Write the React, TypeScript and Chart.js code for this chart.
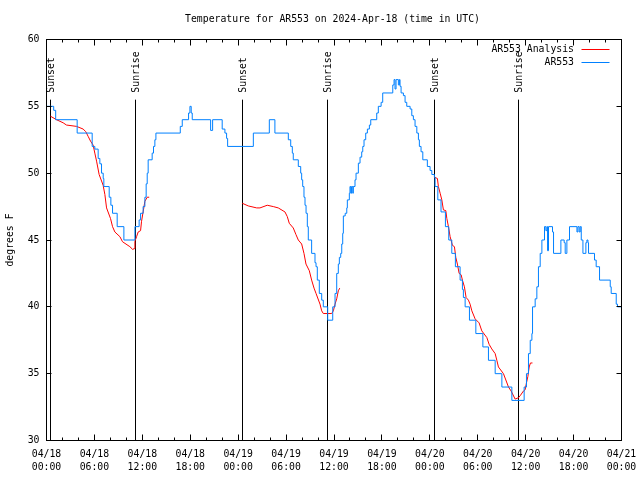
import React, { useEffect, useRef } from "react";
import { Chart, registerables } from "chart.js";

Chart.register(...registerables);

const FONT_FAMILY = '"DejaVu Sans Mono", "Liberation Mono", monospace';
const FONT_SIZE = 9.8;

const titleText = "Temperature for AR553 on 2024-Apr-18 (time in UTC)";
const yAxisTitle = "degrees F";
const analysisLabel = "AR553 Analysis";
const observedLabel = "AR553";
const analysisColor = "#ff0000";
const observedColor = "#0080ff";

// x axis: hours since 04/18 00:00 UTC
const xMin = 0;
const xMax = 72;
const xTickDates = ["04/18", "04/18", "04/18", "04/18", "04/19", "04/19", "04/19", "04/19", "04/20", "04/20", "04/20", "04/20", "04/21"];
const xTickTimes = ["00:00", "06:00", "12:00", "18:00", "00:00", "06:00", "12:00", "18:00", "00:00", "06:00", "12:00", "18:00", "00:00"];
const yMin = 30;
const yMax = 60;

// Sunrise / sunset markers (hours)
const eventHours = [0.45, 11.1, 24.5, 35.16, 48.57, 59.1];
const eventLabels = ["Sunset", "Sunrise", "Sunset", "Sunrise", "Sunset", "Sunrise"];

// AR553 observations (hour, deg F)
const observedHours = [
  0, 0.9, 1.15, 3.84, 5.72, 6.05, 6.47, 6.68, 6.89, 7.1, 7.18, 7.85, 8.06, 8.27, 8.85, 9.69,
  11.07, 11.6, 11.78, 12.1, 12.32, 12.48, 12.61, 12.73, 13.23, 13.4, 13.57, 13.7, 16.75, 17.0,
  17.79, 17.96, 18.12, 18.25, 20.55, 20.8, 22.0, 22.34, 22.55, 22.68, 25.9, 27.9, 28.6, 30.28,
  30.58, 30.78, 30.9, 31.53, 31.83, 31.95, 32.08, 32.24, 32.37, 32.5, 32.66, 32.78, 33.2, 33.62,
  33.75, 33.91, 34.16, 34.46, 34.66, 35.21, 35.84, 36.13, 36.34, 36.54, 36.67, 36.84, 36.97,
  37.09, 37.17, 37.4, 37.6, 37.67, 37.92, 38.0, 38.1, 38.2, 38.35, 38.42, 38.63, 38.76, 39.05,
  39.26, 39.47, 39.6, 39.76, 39.97, 40.18, 40.43, 40.6, 41.35, 41.55, 41.9, 42.1, 43.36, 43.52,
  43.64, 43.77, 44.06, 44.19, 44.27, 44.4, 44.69, 44.9, 45.11, 45.53, 45.74, 45.94, 46.15, 46.37,
  46.57, 46.69, 46.9, 47.12, 47.69, 48.03, 48.25, 48.57, 48.66, 49.0, 49.4, 49.95, 50.37, 50.75,
  51.2, 51.79, 52.08, 52.2, 52.42, 52.96, 53.76, 54.64, 55.34, 56.18, 57.02, 58.27, 59.81, 60.1,
  60.35, 60.57, 60.78, 60.86, 61.19, 61.4, 61.6, 61.82, 62.03, 62.36, 62.53, 62.66, 62.74, 62.86,
  63.36, 63.49, 64.41, 64.82, 64.95, 65.16, 65.49, 66.42, 66.54, 66.7, 66.83, 66.96, 67.17, 67.54,
  67.67, 67.8, 67.87, 68.62, 68.83, 69.25, 70.59, 70.71, 71.34, 71.5, 72,
];
const observedTemps = [
  55, 54.7, 54, 53, 52, 51.8, 51.1, 50.7, 50, 49.6, 49, 48.2, 47.6, 47, 46, 45,
  46, 46.5, 47, 47.5, 48.2, 49.2, 50, 51, 51.5, 52, 52.5, 53, 53.5, 54,
  54.5, 55, 54.5, 54, 53.2, 54, 53.3, 53, 52.6, 52, 53, 54, 53, 52.5,
  52, 51.5, 51, 50.5, 50, 49.5, 49, 48.2, 47.6, 47, 46, 45, 44, 43.3,
  43, 42, 41, 40.5, 40, 39, 40, 41, 42.5, 43.2, 43.7, 44, 44.7,
  45.5, 46.8, 47, 47.4, 48, 48.5, 49, 48.5, 49, 48.5, 49, 49.5, 50, 50.75,
  51.2, 51.6, 52, 52.5, 53, 53.3, 53.6, 54, 54.5, 55, 55.3, 56, 56.6, 57,
  56.3, 57, 56.6, 57, 56.5, 56, 55.8, 55.3, 55, 54.8, 54.3, 54, 53.5, 53,
  52.5, 52, 51.6, 51, 50.5, 50.2, 49.9, 49.7, 49, 48, 47.1, 46, 45, 44,
  43, 42, 41.3, 40.7, 40, 39, 38, 37, 36, 35, 34, 33, 34, 35,
  36.5, 37.5, 38, 40, 40.6, 41.5, 43, 44, 45, 46, 45.7, 46, 44.2, 46,
  45.6, 44, 45, 44.8, 44, 45, 46, 45.6, 46, 45.6, 46, 45, 44, 44.8,
  45, 44.8, 44, 43.5, 43, 42, 41.5, 41, 40.2, 40, 40,
];

// AR553 Analysis, three evening-to-morning runs (hour, deg F)
const analysisRun1Hours = [0.5, 1.25, 2.08, 2.5, 3.76, 4.59, 4.92, 5.21, 5.51, 5.84, 6.05, 6.27, 6.59, 7.09, 7.31, 7.52, 8.02, 8.27, 8.56, 9.19, 9.52, 10.44, 10.78, 10.98, 11.07, 11.28, 11.48, 11.78, 11.9, 12.1, 12.32, 12.61, 12.86];
const analysisRun1Temps = [54.26, 54.0, 53.77, 53.6, 53.5, 53.3, 53.1, 52.76, 52.4, 52.1, 51.5, 50.9, 49.9, 49.1, 48.4, 47.4, 46.6, 46.0, 45.6, 45.25, 44.87, 44.5, 44.3, 44.35, 44.9, 45.25, 45.6, 45.7, 46.4, 47.1, 47.9, 48.2, 48.2];
const analysisRun2Hours = [24.51, 25.26, 26.32, 26.73, 27.64, 28.4, 29.02, 29.86, 30.15, 30.4, 30.9, 31.24, 31.53, 31.95, 32.24, 32.49, 32.91, 33.2, 33.5, 33.75, 34.25, 34.46, 34.66, 35.71, 35.92, 36.13, 36.34, 36.54, 36.72];
const analysisRun2Temps = [47.75, 47.55, 47.4, 47.4, 47.6, 47.5, 47.4, 47.1, 46.75, 46.25, 45.9, 45.4, 45.0, 44.7, 44.0, 43.2, 42.7, 42.0, 41.4, 41.0, 40.2, 39.7, 39.5, 39.5, 39.7, 40.2, 40.6, 41.2, 41.4];
const analysisRun3Hours = [48.57, 48.95, 49.07, 49.29, 49.5, 49.7, 50.0, 50.13, 50.33, 50.54, 50.83, 51.08, 51.25, 51.45, 51.67, 51.92, 52.08, 52.33, 52.54, 52.83, 53.04, 53.26, 53.67, 54.17, 54.51, 55.14, 55.42, 55.76, 56.18, 56.39, 56.59, 57.22, 57.85, 58.18, 58.68, 59.1, 59.31, 59.72, 59.94, 60.06, 60.28, 60.44, 60.6, 60.85];
const analysisRun3Temps = [49.7, 49.6, 49.0, 48.5, 48.0, 47.25, 47.2, 46.6, 46.0, 45.25, 44.6, 44.5, 43.7, 43.2, 42.5, 42.4, 42.0, 41.5, 40.7, 40.5, 40.2, 39.7, 39.1, 38.8, 38.2, 37.7, 37.2, 36.85, 36.5, 36.0, 35.5, 35.0, 34.0, 33.7, 33.1, 33.2, 33.35, 33.7, 33.8, 34.2, 34.8, 35.5, 35.8, 35.8];

type Pt = { x: number; y: number | null };

function toPoints(hours: number[], temps: number[]): Pt[] {
  return hours.map((h, i) => ({ x: h, y: temps[i] }));
}

function joinRuns(runs: Pt[][]): Pt[] {
  const out: Pt[] = [];
  runs.forEach((run, i) => {
    if (i > 0) {
      const prev = runs[i - 1];
      out.push({ x: (prev[prev.length - 1].x + run[0].x) / 2, y: null });
    }
    out.push(...run);
  });
  return out;
}

const font = (size = FONT_SIZE) => `${size}px ${FONT_FAMILY}`;
const snap = (v: number) => Math.floor(v) + 0.5;

const decorPlugin = {
  id: "gnuplotDecor",
  beforeDatasetsDraw(chart: any) {
    const { ctx, chartArea: a, scales } = chart;
    const x = scales.x;
    const lineTop = a.bottom - 0.85 * (a.bottom - a.top);
    ctx.save();
    ctx.strokeStyle = "#000";
    ctx.lineWidth = 1;
    ctx.fillStyle = "#000";
    ctx.font = font();
    eventHours.forEach((h, i) => {
      const px = snap(x.getPixelForValue(h));
      ctx.beginPath();
      ctx.moveTo(px, lineTop);
      ctx.lineTo(px, a.bottom);
      ctx.stroke();
      ctx.save();
      ctx.translate(px + 0.5, lineTop - 7);
      ctx.rotate(-Math.PI / 2);
      ctx.textAlign = "left";
      ctx.textBaseline = "middle";
      ctx.fillText(eventLabels[i], 0, 0);
      ctx.restore();
    });
    ctx.restore();
  },
  afterDraw(chart: any) {
    const { ctx, chartArea: a, scales } = chart;
    const x = scales.x;
    const y = scales.y;
    ctx.save();
    ctx.strokeStyle = "#000";
    ctx.lineWidth = 1;
    ctx.beginPath();
    for (let h = xMin; h <= xMax; h += 2) {
      const px = snap(x.getPixelForValue(h));
      const len = h % 6 === 0 ? 6 : 3;
      ctx.moveTo(px, a.bottom);
      ctx.lineTo(px, a.bottom - len);
      ctx.moveTo(px, a.top);
      ctx.lineTo(px, a.top + len);
    }
    for (let v = yMin; v <= yMax; v += 5) {
      const py = snap(y.getPixelForValue(v));
      ctx.moveTo(a.left, py);
      ctx.lineTo(a.left + 5, py);
      ctx.moveTo(a.right, py);
      ctx.lineTo(a.right - 5, py);
    }
    ctx.stroke();
    ctx.strokeRect(a.left, a.top, a.right - a.left, a.bottom - a.top);

    // title
    ctx.fillStyle = "#000";
    ctx.font = font();
    ctx.textAlign = "center";
    ctx.textBaseline = "middle";
    ctx.fillText(titleText, (a.left + a.right) / 2 - 1.5, 19.5);

    // legend
    const ds = chart.data.datasets;
    ds.forEach((d: any, i: number) => {
      const ly = a.top + 10 + i * 13;
      ctx.textAlign = "right";
      ctx.fillStyle = "#000";
      ctx.fillText(d.label, a.right - 47.5, ly);
      ctx.strokeStyle = d.borderColor;
      ctx.beginPath();
      ctx.moveTo(a.right - 40, snap(ly));
      ctx.lineTo(a.right - 12, snap(ly));
      ctx.stroke();
    });
    ctx.restore();
  },
};

export default function App() {
  const canvasRef = useRef<HTMLCanvasElement | null>(null);

  useEffect(() => {
    const canvas = canvasRef.current;
    if (!canvas) return;
    const analysisData = joinRuns([
      toPoints(analysisRun1Hours, analysisRun1Temps),
      toPoints(analysisRun2Hours, analysisRun2Temps),
      toPoints(analysisRun3Hours, analysisRun3Temps),
    ]);
    const observedData = toPoints(observedHours, observedTemps);
    const tickFont = { family: FONT_FAMILY, size: FONT_SIZE };

    const chart = new Chart(canvas, {
      type: "line",
      data: {
        datasets: [
          {
            label: analysisLabel,
            data: analysisData as any,
            borderColor: analysisColor,
            backgroundColor: analysisColor,
            borderWidth: 1,
            pointRadius: 0,
            tension: 0,
            spanGaps: false,
            order: 2,
          },
          {
            label: observedLabel,
            data: observedData as any,
            borderColor: observedColor,
            backgroundColor: observedColor,
            borderWidth: 1,
            pointRadius: 0,
            stepped: "before",
            order: 1,
          },
        ],
      },
      options: {
        animation: false,
        responsive: false,
        maintainAspectRatio: false,
        devicePixelRatio: 1,
        layout: { padding: { top: 39.5, right: 18.5, left: 0, bottom: 0 } },
        plugins: {
          legend: { display: false },
          title: { display: false },
          tooltip: { enabled: false },
        },
        scales: {
          x: {
            type: "linear",
            min: xMin,
            max: xMax,
            grid: { display: false, drawTicks: false },
            border: { display: false },
            afterFit: (scale: any) => {
              scale.height = 39.5;
              scale.paddingLeft = 0;
              scale.paddingRight = 0;
            },
            ticks: {
              stepSize: 6,
              autoSkip: false,
              maxRotation: 0,
              minRotation: 0,
              padding: 7,
              color: "#000",
              font: { ...tickFont, lineHeight: "13px" } as any,
              callback: (_v: any, i: number) => [xTickDates[i], xTickTimes[i]],
            },
          },
          y: {
            type: "linear",
            min: yMin,
            max: yMax,
            grid: { display: false, drawTicks: false },
            border: { display: false },
            afterFit: (scale: any) => {
              scale.width = 46.5;
              scale.paddingTop = 0;
              scale.paddingBottom = 0;
            },
            ticks: {
              stepSize: 5,
              padding: 7,
              color: "#000",
              font: tickFont,
            },
            title: {
              display: true,
              text: yAxisTitle,
              color: "#000",
              font: tickFont,
              padding: { top: 5, bottom: 0 },
            },
          },
        },
      },
      plugins: [decorPlugin],
    });
    return () => chart.destroy();
  }, []);

  return (
    <div style={{ position: "fixed", left: 0, top: 0, width: 640, height: 480, background: "#fff" }}>
      <canvas ref={canvasRef} width={640} height={480} style={{ width: 640, height: 480, display: "block" }} />
    </div>
  );
}
